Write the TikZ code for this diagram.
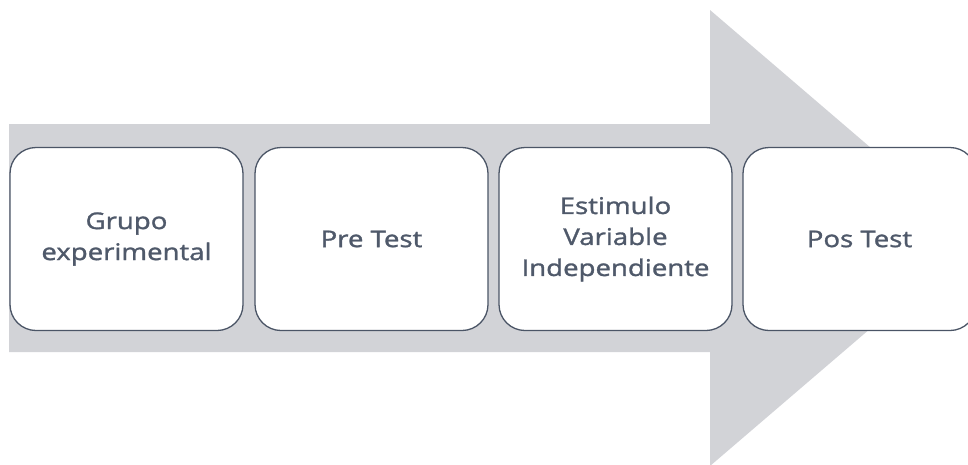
\documentclass[tikz,border=0pt]{standalone}
\usepackage{fontspec}
\newfontfamily\boxfont[FakeStretch=1.2,FakeBold=1.3]{Open Sans}
\definecolor{arrowgray}{HTML}{D2D3D7}
\definecolor{boxline}{HTML}{4B5566}
\definecolor{boxtext}{HTML}{4F596A}
\begin{document}
\begin{tikzpicture}[x=1pt,y=-1pt,
  stepbox/.style={draw=boxline,line width=1.3pt,fill=white,rounded corners=26pt,
    minimum width=233pt,minimum height=183pt,align=center,inner sep=0pt,
    text=boxtext,font=\boxfont\fontsize{23}{31}\selectfont}]
\useasboundingbox (0,0) rectangle (968,464);
\begin{scope}
\clip (0,0) rectangle (968,464);
\fill[arrowgray] (9,124) -- (710,124) -- (710,10) -- (976,238) -- (710,466) -- (710,352) -- (9,352) -- cycle;
\node[stepbox] (b1) at (126.5,239) {Grupo\\experimental};
\node[stepbox] (b2) at (371.5,239) {Pre Test};
\node[stepbox] (b3) at (615.5,239) {Estimulo\\Variable\\Independiente};
\node[stepbox] (b4) at (859.5,239) {Pos Test};
\end{scope}
\end{tikzpicture}
\end{document}
